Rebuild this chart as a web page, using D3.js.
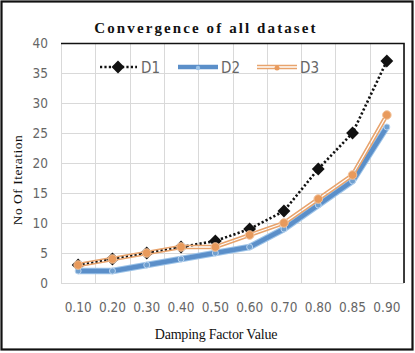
<!DOCTYPE html>
<html>
<head>
<meta charset="utf-8">
<script src="https://cdn.jsdelivr.net/npm/d3@7"></script>
<style>
  html, body { margin: 0; padding: 0; background: #fff; }
  svg { display: block; }
  .tick-label { font-family: "Liberation Sans Narrow", "DejaVu Sans Condensed", Arial, sans-serif; font-size: 13.5px; fill: #666; }
</style>
</head>
<body>
<div id="chart"></div>
<script>
// Convergence of all dataset — iterations vs damping factor, three datasets.

const categories = ["0.10", "0.20", "0.30", "0.40", "0.50", "0.60", "0.70", "0.80", "0.85", "0.90"];
const seriesD1 = [3, 4, 5, 6, 7, 9, 12, 19, 25, 37];
const seriesD2 = [2, 2, 3, 4, 5, 6, 9, 13, 17, 26];
const seriesD3 = [3, 4, 5, 6, 6, 8, 10, 14, 18, 28];
const yTicks = [0, 5, 10, 15, 20, 25, 30, 35, 40];

const W = 415, H = 353;
const margin = { top: 43, right: 11, bottom: 70, left: 61 };

const svg = d3.select("#chart").append("svg").attr("width", W).attr("height", H);

const x = d3.scaleBand().domain(categories).range([margin.left, W - margin.right]);
const y = d3.scaleLinear().domain([0, 40]).range([H - margin.bottom, margin.top]);
const cx = d => x(d) + x.bandwidth() / 2;

// gridlines
const grid = svg.append("g").attr("stroke", "#d9d9d9").attr("stroke-width", 1);
grid.selectAll("line.h").data(yTicks).join("line").attr("class", "h")
  .attr("x1", margin.left).attr("x2", W - margin.right)
  .attr("y1", d => y(d) + 0.5).attr("y2", d => y(d) + 0.5);
const vx = categories.map(c => x(c)).concat([W - margin.right]);
grid.selectAll("line.v").data(vx).join("line").attr("class", "v")
  .attr("x1", d => Math.round(d) + 0.5).attr("x2", d => Math.round(d) + 0.5)
  .attr("y1", margin.top).attr("y2", H - margin.bottom);

// plot frame, top + right are dark
svg.append("path")
  .attr("d", `M${margin.left},${margin.top + 0.5}H${W - margin.right}V${H - margin.bottom}`)
  .attr("fill", "none").attr("stroke", "#111").attr("stroke-width", 1.6);

// axes labels
const gy = svg.append("g").attr("transform", `translate(${margin.left - 13},0)`)
  .call(d3.axisLeft(y).tickValues(yTicks).tickSize(0).tickPadding(0));
gy.select(".domain").remove();
gy.selectAll("text").attr("class", "tick-label").attr("font-size", null).attr("font-family", null);

const gx = svg.append("g").attr("transform", `translate(0,${H - margin.bottom + 15})`)
  .call(d3.axisBottom(x).tickSize(0).tickPadding(4));
gx.select(".domain").remove();
gx.selectAll("text").attr("class", "tick-label").attr("font-size", null).attr("font-family", null);

// titles
svg.append("text").attr("x", 206).attr("y", 33).attr("text-anchor", "middle")
  .attr("font-family", "Liberation Serif, Times New Roman, serif").attr("font-weight", "bold")
  .attr("font-size", 15).attr("letter-spacing", 2.1).attr("fill", "#111")
  .text("Convergence of all dataset");
svg.append("text").attr("x", 216).attr("y", 339).attr("text-anchor", "middle")
  .attr("font-family", "Liberation Serif, Times New Roman, serif")
  .attr("font-size", 14).attr("letter-spacing", -0.2).attr("fill", "#111")
  .text("Damping Factor Value");
svg.append("text").attr("transform", `translate(22,180) rotate(-90)`).attr("text-anchor", "middle")
  .attr("font-family", "Liberation Serif, Times New Roman, serif")
  .attr("font-size", 13.5).attr("letter-spacing", 0.5).attr("fill", "#111")
  .text("No Of Iteration");

const line = d3.line().x((d, i) => cx(categories[i])).y(d => y(d));
const diamond = d3.symbol().type(d3.symbolDiamond2).size(105);

// mask that hollows the middle of the D3 line so it reads as a double line
const defs = svg.append("defs");
const mask = defs.append("mask").attr("id", "d3hollow").attr("maskUnits", "userSpaceOnUse")
  .attr("x", 0).attr("y", 0).attr("width", W).attr("height", H);
mask.append("path").datum(seriesD3).attr("d", line).attr("fill", "none")
  .attr("stroke", "#fff").attr("stroke-width", 6).attr("stroke-linejoin", "round");
mask.append("path").datum(seriesD3).attr("d", line).attr("fill", "none")
  .attr("stroke", "#000").attr("stroke-width", 1.3).attr("stroke-linejoin", "round");

// D1 — black dotted with diamonds (drawn first, the others sit over it)
svg.append("path").datum(seriesD1).attr("d", line).attr("fill", "none")
  .attr("stroke", "#111").attr("stroke-width", 2.6).attr("stroke-dasharray", "2.2 2.2");
svg.append("g").selectAll("path").data(seriesD1).join("path")
  .attr("transform", (d, i) => `translate(${cx(categories[i])},${y(d)})`)
  .attr("d", diamond).attr("fill", "#111");

// D2 — thick blue
svg.append("path").datum(seriesD2).attr("d", line).attr("fill", "none")
  .attr("stroke", "#9cc3e8").attr("stroke-width", 6.5).attr("stroke-linejoin", "round");
svg.append("path").datum(seriesD2).attr("d", line).attr("fill", "none")
  .attr("stroke", "#5b8fc9").attr("stroke-width", 4.5).attr("stroke-linejoin", "round");
svg.append("g").selectAll("circle").data(seriesD2).join("circle")
  .attr("cx", (d, i) => cx(categories[i])).attr("cy", d => y(d)).attr("r", 3)
  .attr("fill", "#6f9fcf").attr("stroke", "#b9d3ee").attr("stroke-width", 1);

// D3 — orange double line
svg.append("path").datum(seriesD3).attr("d", line).attr("fill", "none")
  .attr("mask", "url(#d3hollow)")
  .attr("stroke", "#e8a36c").attr("stroke-width", 4.5).attr("stroke-linejoin", "round");
svg.append("g").selectAll("circle").data(seriesD3).join("circle")
  .attr("cx", (d, i) => cx(categories[i])).attr("cy", d => y(d)).attr("r", 4.3)
  .attr("fill", "#e89a5c").attr("stroke", "#f2c39c").attr("stroke-width", 1);

// legend
const ly = 67;
const lg = svg.append("g").attr("font-family", "Liberation Sans Narrow, DejaVu Sans Condensed, Arial, sans-serif")
  .attr("font-size", 15).attr("fill", "#666");
lg.append("line").attr("x1", 100).attr("x2", 137).attr("y1", ly).attr("y2", ly)
  .attr("stroke", "#111").attr("stroke-width", 2.6).attr("stroke-dasharray", "2.2 2.2");
lg.append("path").attr("transform", `translate(118,${ly})`).attr("d", diamond).attr("fill", "#111");
lg.append("text").attr("x", 141).attr("y", ly + 6).text("D1");

lg.append("line").attr("x1", 178).attr("x2", 218).attr("y1", ly).attr("y2", ly)
  .attr("stroke", "#5b8fc9").attr("stroke-width", 4.5);
lg.append("circle").attr("cx", 198).attr("cy", ly + 1).attr("r", 2.2).attr("fill", "#9cc3e8");
lg.append("text").attr("x", 221).attr("y", ly + 6).text("D2");

lg.append("line").attr("x1", 257).attr("x2", 297).attr("y1", ly).attr("y2", ly)
  .attr("stroke", "#e8a36c").attr("stroke-width", 4.5);
lg.append("line").attr("x1", 257).attr("x2", 297).attr("y1", ly).attr("y2", ly)
  .attr("stroke", "#fff").attr("stroke-width", 1.3);
lg.append("circle").attr("cx", 277).attr("cy", ly + 1).attr("r", 2.5).attr("fill", "#e89a5c");
lg.append("text").attr("x", 300).attr("y", ly + 6).text("D3");

// outer frame
svg.append("rect").attr("x", 1.5).attr("y", 1.5).attr("width", W - 4).attr("height", H - 5)
  .attr("fill", "none").attr("stroke", "#111").attr("stroke-width", 2.2);
</script>
</body>
</html>
